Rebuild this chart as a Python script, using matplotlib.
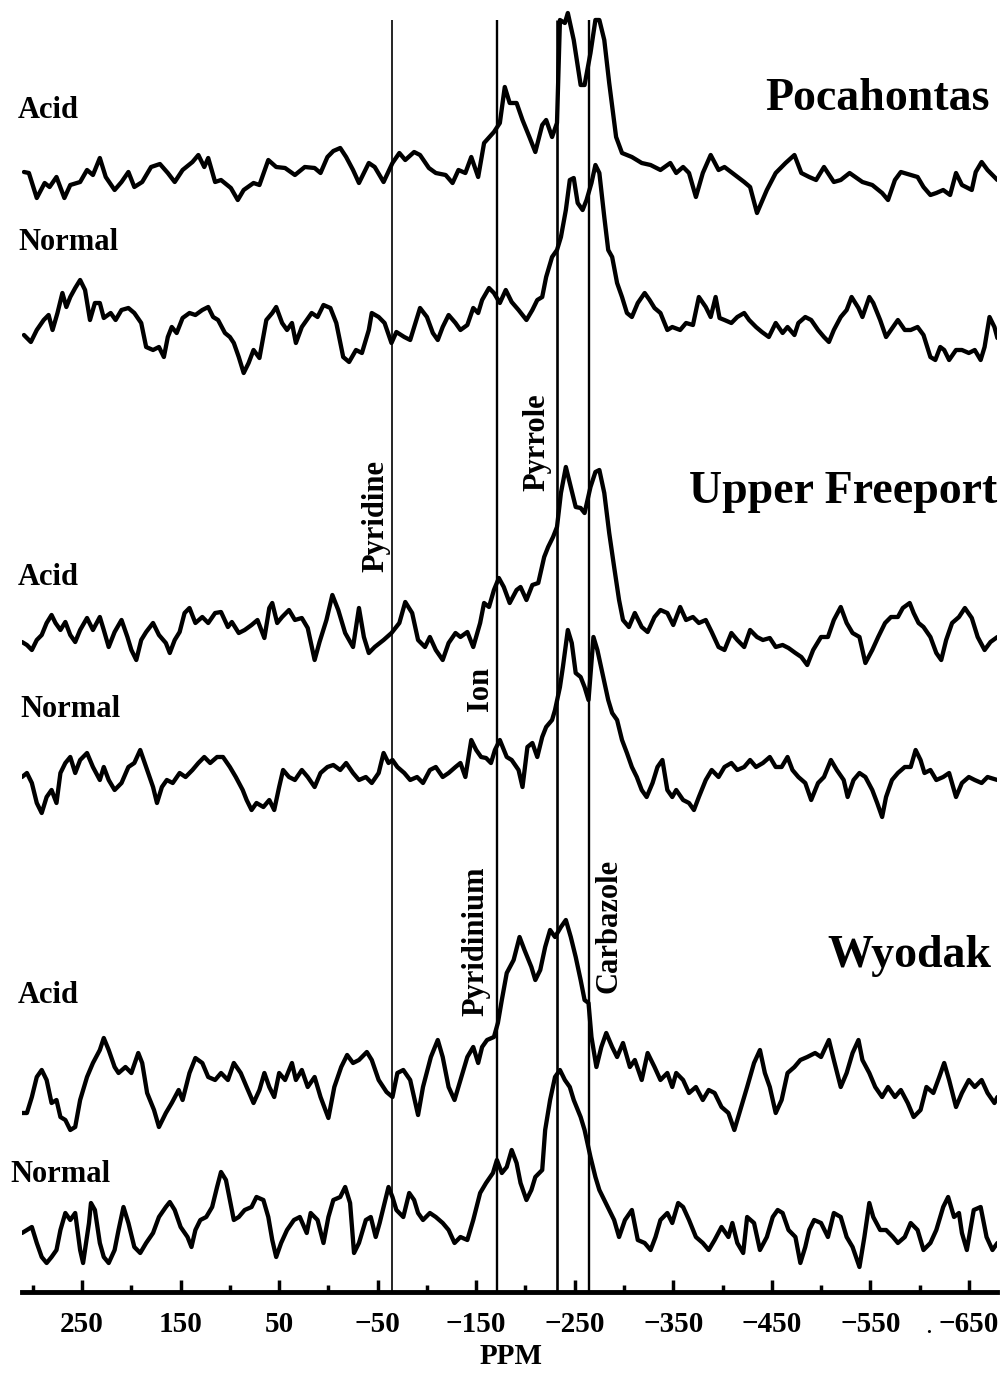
import matplotlib
matplotlib.use("Agg")
import matplotlib.pyplot as plt

# (chemical shift in ppm, intensity)
pocahontas_acid = [
    (309, 13), (304, 12), (296, -13), (288, 2), (283, -2), (276, 8), (268, -13), (262, 0), (252, 3), (245, 15),
    (239, 10), (232, 27), (226, 8), (217, -5), (210, 3), (203, 13), (197, -2), (189, 3), (180, 18), (171, 21),
    (163, 12), (156, 3), (148, 15), (138, 23), (132, 30), (126, 18), (122, 27), (115, 3), (109, 5), (99, -3),
    (92, -15), (86, -5), (76, 2), (70, 0), (61, 25), (53, 18), (44, 17), (34, 10), (24, 18), (14, 17),
    (8, 12), (1, 28), (-5, 34), (-12, 37), (-18, 28), (-25, 15), (-31, 2), (-41, 22), (-47, 18), (-56, 3),
    (-65, 22), (-72, 32), (-78, 25), (-87, 33), (-93, 30), (-102, 17), (-109, 12), (-119, 10), (-126, 2), (-132, 15),
    (-139, 12), (-145, 28), (-152, 8), (-158, 42), (-168, 53), (-174, 62), (-179, 98), (-184, 82), (-191, 82), (-197, 65),
    (-204, 48), (-210, 33), (-217, 60), (-221, 65), (-227, 48), (-232, 62), (-235, 165), (-240, 162), (-243, 172), (-249, 145),
    (-256, 100), (-260, 100), (-266, 132), (-271, 165), (-275, 165), (-280, 145), (-285, 102), (-292, 48), (-298, 32), (-308, 28),
    (-318, 22), (-327, 20), (-337, 15), (-347, 22), (-353, 12), (-360, 18), (-366, 12), (-373, -12), (-380, 12), (-388, 30),
    (-396, 15), (-402, 18), (-410, 12), (-422, 3), (-428, -2), (-435, -28), (-445, -5), (-454, 12), (-464, 22), (-473, 30),
    (-480, 12), (-488, 8), (-495, 5), (-503, 18), (-513, 3), (-520, 5), (-529, 12), (-542, 3), (-552, 0), (-562, -8),
    (-568, -15), (-575, 5), (-581, 13), (-591, 10), (-598, 8), (-604, -2), (-611, -10), (-617, -8), (-624, -5), (-631, -10),
    (-637, 12), (-643, 0), (-653, -5), (-657, 13), (-663, 23), (-669, 15), (-679, 5),
]

pocahontas_normal = [
    (309, -15), (302, -22), (296, -10), (289, 0), (284, 5), (280, -10), (275, 7), (270, 27), (266, 13), (262, 23),
    (257, 32), (252, 40), (247, 30), (242, 0), (237, 17), (232, 17), (228, 2), (221, 7), (216, 0), (210, 10),
    (203, 12), (197, 7), (190, -3), (185, -27), (178, -30), (172, -27), (167, -37), (163, -17), (159, -7), (154, -13),
    (148, 2), (141, 7), (135, 5), (128, 10), (122, 13), (117, 3), (112, 0), (105, -13), (100, -17), (96, -23),
    (91, -37), (86, -53), (81, -43), (76, -30), (70, -38), (63, 0), (57, 7), (53, 13), (47, -3), (42, -10),
    (37, -3), (33, -23), (27, -7), (22, 0), (17, 7), (11, 3), (5, 15), (-2, 12), (-8, -3), (-15, -37),
    (-21, -42), (-28, -30), (-34, -33), (-41, -10), (-44, 7), (-51, 3), (-57, -3), (-64, -23), (-69, -12), (-77, -17),
    (-83, -20), (-93, 12), (-100, 3), (-106, -13), (-111, -20), (-116, -7), (-122, 5), (-129, -3), (-134, -10), (-141, -5),
    (-147, 12), (-152, 7), (-156, 20), (-163, 32), (-168, 27), (-174, 17), (-180, 30), (-186, 18), (-193, 10), (-201, 0),
    (-207, 10), (-212, 20), (-217, 23), (-221, 43), (-227, 63), (-232, 70), (-236, 83), (-241, 110), (-245, 140), (-249, 142),
    (-253, 117), (-258, 110), (-262, 120), (-267, 137), (-271, 155), (-275, 147), (-280, 103), (-284, 70), (-288, 63), (-293, 37),
    (-298, 23), (-303, 7), (-308, 3), (-314, 17), (-321, 27), (-326, 20), (-331, 12), (-337, 7), (-344, -10), (-349, -7),
    (-357, -10), (-363, -3), (-370, -5), (-376, 23), (-383, 13), (-388, 3), (-393, 23), (-397, 2), (-402, 0), (-409, -3),
    (-415, 3), (-422, 7), (-427, 0), (-434, -7), (-440, -12), (-447, -17), (-454, -3), (-461, -13), (-466, -7), (-473, -15),
    (-477, -3), (-484, 3), (-490, 0), (-497, -10), (-503, -17), (-508, -22), (-513, -10), (-520, 3), (-526, 10), (-531, 23),
    (-538, 12), (-542, 3), (-549, 23), (-553, 17), (-560, 0), (-566, -17), (-573, -7), (-578, 0), (-585, -10), (-591, -10),
    (-598, -7), (-604, -15), (-611, -37), (-616, -40), (-621, -27), (-625, -30), (-630, -40), (-637, -30), (-643, -30), (-650, -33),
    (-656, -30), (-662, -40), (-666, -27), (-671, 3), (-676, -7), (-679, -18),
]

freeport_acid = [
    (311, -12), (306, -15), (301, -20), (296, -10), (291, -5), (286, 7), (281, 15), (277, 7), (272, 0), (267, 8),
    (262, -5), (257, -12), (252, 0), (245, 12), (239, 0), (232, 13), (228, 0), (223, -17), (217, -2), (210, 10),
    (204, -7), (200, -20), (195, -30), (190, -10), (185, -2), (178, 7), (172, -5), (165, -13), (161, -23), (156, -10),
    (151, -2), (146, 17), (141, 22), (135, 7), (128, 13), (122, 7), (115, 17), (109, 18), (102, 3), (98, 8),
    (91, -3), (85, 0), (78, 5), (72, 10), (65, -8), (60, 22), (57, 27), (52, 7), (47, 13), (40, 20),
    (34, 10), (27, 12), (21, 2), (14, -30), (9, -12), (2, 10), (-4, 35), (-10, 20), (-17, -3), (-25, -17),
    (-31, 22), (-36, -7), (-41, -23), (-47, -17), (-56, -10), (-64, -3), (-72, 7), (-78, 28), (-85, 17), (-91, -10),
    (-98, -17), (-103, -7), (-109, -20), (-116, -30), (-122, -13), (-129, -3), (-134, -7), (-141, -2), (-147, -17), (-154, 7),
    (-158, 27), (-163, 23), (-168, 40), (-173, 52), (-178, 43), (-184, 27), (-191, 40), (-195, 43), (-201, 30), (-207, 45),
    (-213, 47), (-219, 73), (-223, 83), (-228, 93), (-232, 103), (-236, 137), (-241, 163), (-246, 143), (-251, 123), (-256, 122),
    (-260, 117), (-266, 143), (-271, 158), (-275, 160), (-280, 137), (-285, 97), (-290, 63), (-295, 30), (-299, 10), (-305, 3),
    (-311, 17), (-318, 3), (-324, -2), (-331, 13), (-337, 20), (-344, 17), (-350, 5), (-357, 23), (-363, 10), (-370, 13),
    (-376, 7), (-383, 10), (-389, -2), (-396, -17), (-402, -20), (-409, -3), (-415, -10), (-422, -17), (-428, 0), (-435, -7),
    (-441, -10), (-448, -8), (-454, -17), (-461, -15), (-467, -18), (-474, -23), (-480, -27), (-486, -35), (-492, -20), (-500, -7),
    (-507, -7), (-513, 10), (-520, 23), (-526, 7), (-532, -3), (-539, -7), (-545, -33), (-552, -20), (-558, -7), (-565, 7),
    (-571, 13), (-578, 13), (-583, 22), (-590, 27), (-594, 17), (-599, 7), (-604, 3), (-611, -7), (-617, -23), (-622, -30),
    (-627, -10), (-633, 7), (-640, 13), (-646, 22), (-653, 12), (-659, -7), (-666, -20), (-672, -12), (-679, -7),
]

freeport_normal = [
    (311, -2), (306, 2), (301, -8), (296, -28), (291, -38), (286, -22), (281, -15), (276, -28), (272, 2), (267, 12),
    (262, 18), (257, 2), (252, 15), (245, 22), (239, 8), (232, -5), (228, 8), (223, -5), (217, -15), (210, -8),
    (203, 8), (197, 12), (191, 25), (185, 8), (178, -12), (174, -28), (169, -12), (164, -5), (158, -8), (151, 2),
    (145, -2), (138, 5), (132, 12), (126, 18), (120, 12), (113, 18), (107, 18), (100, 8), (94, -2), (87, -15),
    (83, -25), (78, -35), (73, -28), (66, -32), (60, -25), (55, -35), (50, -12), (46, 5), (40, -2), (34, -5),
    (27, 5), (21, -2), (14, -12), (8, 2), (1, 8), (-5, 10), (-12, 5), (-18, 12), (-25, 2), (-31, -5),
    (-38, -2), (-44, -8), (-51, 2), (-56, 22), (-61, 12), (-65, 15), (-70, 8), (-77, 2), (-83, -5), (-90, -2),
    (-96, -8), (-103, 5), (-109, 8), (-116, -2), (-122, 2), (-129, 8), (-134, 12), (-139, -2), (-145, 35), (-150, 25),
    (-155, 18), (-160, 17), (-165, 12), (-169, 25), (-174, 35), (-181, 18), (-186, 15), (-193, 5), (-197, -12), (-202, 28),
    (-207, 32), (-212, 18), (-217, 38), (-221, 48), (-227, 55), (-230, 65), (-235, 88), (-238, 108), (-243, 145), (-247, 132),
    (-251, 102), (-256, 98), (-260, 88), (-264, 75), (-269, 138), (-273, 125), (-279, 98), (-284, 75), (-288, 62), (-293, 55),
    (-298, 35), (-303, 22), (-308, 8), (-313, -2), (-318, -15), (-323, -22), (-329, -8), (-334, 8), (-339, 15), (-344, -15),
    (-349, -22), (-353, -15), (-360, -25), (-366, -28), (-371, -35), (-376, -22), (-383, -5), (-389, 5), (-396, -2), (-402, 8),
    (-409, 12), (-415, 5), (-422, 8), (-428, 15), (-434, 8), (-441, 12), (-448, 18), (-454, 8), (-460, 8), (-466, 18),
    (-471, 5), (-477, -2), (-484, -8), (-490, -25), (-497, -8), (-503, -2), (-510, 15), (-516, 5), (-523, -5), (-527, -22),
    (-533, -5), (-539, 2), (-545, -2), (-552, -15), (-557, -28), (-562, -42), (-566, -22), (-572, -5), (-578, 2), (-585, 8),
    (-591, 8), (-596, 25), (-601, 15), (-605, 2), (-611, 5), (-617, -5), (-624, -2), (-630, 2), (-637, -22), (-643, -8),
    (-650, -2), (-656, -5), (-663, -8), (-669, -2), (-679, -5),
]

wyodak_acid = [
    (311, -28), (306, -28), (301, -12), (296, 8), (291, 15), (286, 5), (281, -18), (276, -15), (272, -32), (267, -35),
    (262, -45), (257, -42), (252, -15), (245, 8), (239, 22), (232, 35), (228, 47), (223, 35), (217, 18), (213, 12),
    (206, 18), (200, 12), (193, 32), (189, 22), (184, -8), (177, -25), (172, -42), (165, -28), (159, -18), (152, -5),
    (148, -15), (141, 12), (135, 27), (128, 22), (122, 8), (115, 5), (109, 12), (102, 5), (96, 22), (89, 12),
    (83, -2), (76, -18), (70, -5), (65, 12), (60, -2), (55, -12), (50, 12), (44, 5), (37, 22), (33, 5),
    (27, 15), (21, -2), (14, 8), (8, -12), (0, -33), (-6, -2), (-13, 18), (-19, 30), (-25, 22), (-31, 25),
    (-39, 33), (-44, 25), (-51, 5), (-59, -7), (-65, -12), (-70, 12), (-76, 15), (-83, 5), (-91, -30), (-96, -2),
    (-104, 28), (-111, 45), (-116, 28), (-122, -2), (-128, -15), (-134, 5), (-141, 28), (-147, 38), (-152, 22), (-156, 38),
    (-161, 45), (-168, 48), (-172, 62), (-176, 85), (-181, 112), (-188, 125), (-194, 148), (-199, 135), (-206, 118), (-210, 105),
    (-215, 115), (-220, 138), (-225, 155), (-230, 148), (-236, 158), (-241, 165), (-246, 148), (-251, 128), (-256, 105), (-260, 85),
    (-264, 82), (-267, 48), (-272, 18), (-277, 38), (-282, 52), (-288, 38), (-293, 28), (-299, 42), (-306, 18), (-311, 25),
    (-318, 5), (-324, 32), (-331, 18), (-337, 5), (-344, 12), (-349, -2), (-353, 12), (-360, 5), (-366, -8), (-373, -2),
    (-380, -15), (-386, -5), (-392, -8), (-399, -22), (-406, -28), (-412, -45), (-419, -22), (-425, -2), (-432, 22), (-438, 35),
    (-443, 12), (-448, -2), (-454, -28), (-460, -15), (-466, 12), (-473, 18), (-479, 25), (-486, 28), (-494, 32), (-500, 28),
    (-508, 45), (-513, 25), (-520, -2), (-526, 12), (-532, 32), (-538, 45), (-542, 25), (-549, 12), (-555, -2), (-562, -12),
    (-568, -2), (-575, -12), (-581, -5), (-588, -18), (-594, -32), (-601, -25), (-607, -2), (-614, -8), (-620, 8), (-625, 22),
    (-630, 5), (-637, -22), (-643, -8), (-650, 5), (-656, -2), (-663, 5), (-669, -8), (-676, -18), (-679, -12),
]

wyodak_normal = [
    (311, -8), (306, -5), (301, -2), (296, -18), (291, -32), (286, -38), (281, -32), (276, -25), (272, -5), (267, 12),
    (262, 5), (257, 12), (252, -25), (249, -38), (243, 2), (241, 22), (237, 15), (232, -18), (228, -32), (223, -38),
    (217, -25), (213, -5), (208, 18), (203, 2), (197, -22), (191, -28), (185, -18), (178, -8), (172, 8), (165, 18),
    (161, 23), (156, 15), (150, -2), (143, -12), (139, -22), (135, -5), (130, 5), (124, 8), (118, 18), (113, 38),
    (109, 53), (104, 45), (100, 25), (96, 5), (91, 8), (85, 15), (78, 18), (73, 28), (66, 25), (61, 8),
    (57, -15), (53, -32), (48, -18), (42, -5), (35, 5), (29, 8), (22, -8), (18, 12), (11, 5), (5, -18),
    (0, 8), (-5, 25), (-12, 28), (-17, 38), (-22, 22), (-26, -28), (-31, -18), (-38, 5), (-43, 8), (-48, -12),
    (-52, 2), (-56, 18), (-61, 38), (-65, 28), (-69, 15), (-76, 8), (-82, 32), (-87, 25), (-91, 12), (-96, 5),
    (-103, 12), (-109, 8), (-116, 2), (-122, -5), (-128, -18), (-134, -12), (-141, -15), (-147, 5), (-154, 32), (-160, 42),
    (-167, 52), (-171, 65), (-176, 52), (-181, 58), (-186, 75), (-191, 62), (-195, 42), (-201, 25), (-206, 35), (-210, 48),
    (-217, 55), (-220, 95), (-225, 125), (-230, 148), (-235, 155), (-240, 145), (-245, 138), (-249, 125), (-256, 108), (-260, 95),
    (-266, 68), (-271, 48), (-275, 35), (-280, 25), (-285, 15), (-290, 5), (-295, -12), (-301, 5), (-308, 15), (-314, -15),
    (-321, -18), (-327, -25), (-332, -12), (-337, 5), (-344, 12), (-349, 2), (-355, 22), (-360, 18), (-366, 5), (-373, -12),
    (-380, -18), (-386, -25), (-392, -15), (-399, -2), (-406, -12), (-410, 2), (-415, -18), (-421, -28), (-425, 8), (-432, 2),
    (-438, -25), (-445, -12), (-451, 8), (-456, 15), (-461, 12), (-467, -5), (-474, -12), (-479, -38), (-484, -22), (-488, -5),
    (-493, 5), (-500, 2), (-507, -12), (-513, 12), (-520, 8), (-526, -12), (-532, -22), (-539, -42), (-544, -12), (-549, 22),
    (-553, 8), (-560, -5), (-566, -5), (-573, -12), (-578, -18), (-585, -12), (-591, 2), (-598, -5), (-604, -25), (-611, -18),
    (-617, -5), (-624, 18), (-629, 28), (-635, 8), (-640, 12), (-643, -8), (-648, -25), (-655, 15), (-662, 18), (-668, -12),
    (-674, -25), (-679, -18),
]

# reference shifts: pyridine, pyridinium / ion, pyrrole, carbazole
ref_shifts = [-65, -171, -232, -264]

major_ticks = [250, 150, 50, -50, -150, -250, -350, -450, -550, -650]
minor_ticks = [300, 200, 100, 0, -100, -200, -300, -400, -500, -600]
tick_labels = ['250', '150', '50', '\u221250', '\u2212150', '\u2212250',
               '\u2212350', '\u2212450', '\u2212550', '\u2212650']

W, H = 1004, 1374
serif = ['Liberation Serif', 'DejaVu Serif']


def fpos(x, y):
    # pixel position in the picture -> figure fraction
    return x / W, 1 - y / H


fig = plt.figure(figsize=(W / 100, H / 100), dpi=100)
ax = fig.add_axes([22 / W, 1 - 1292 / H, 975 / W, 1292 / H])
ax.set_xlim(311, -678.6)
ax.set_ylim(1292, 0)

# stacked spectra, baselines in pixel rows of the axes
spectra = [pocahontas_acid, pocahontas_normal, freeport_acid,
           freeport_normal, wyodak_acid, wyodak_normal]
baselines = [185, 320, 630, 775, 1085, 1225]
for data, base in zip(spectra, baselines):
    x = [p for p, v in data]
    y = [base - v for p, v in data]
    ax.plot(x, y, color='black', lw=3.1, solid_joinstyle='round',
            solid_capstyle='round')

line_widths = [1.2, 1.7, 1.9, 1.7]
for pos, lw in zip(ref_shifts, line_widths):
    ax.vlines(pos, 20, 1292, color='black', lw=lw)

# axis styling
for side in ['top', 'left', 'right']:
    ax.spines[side].set_visible(False)
ax.spines['bottom'].set_linewidth(3.5)
ax.set_yticks([])
ax.set_xticks(major_ticks)
ax.set_xticks(minor_ticks, minor=True)
ax.set_xticklabels(tick_labels, fontfamily=serif, fontweight='bold', fontsize=21)
ax.tick_params(axis='x', which='major', direction='in', length=9, width=2.5, pad=14)
ax.tick_params(axis='x', which='minor', direction='in', length=5, width=2.5)
ax.patch.set_alpha(0)

fig.text(*fpos(511, 1357), 'PPM', fontfamily=serif, fontweight='bold',
         fontsize=21, ha='center', va='center')
fig.text(*fpos(929, 1333), '.', fontfamily=serif, fontweight='bold',
         fontsize=14, ha='center', va='baseline')

# sample labels
sample_labels = [('Acid', 18, 118), ('Normal', 18, 250), ('Acid', 18, 585),
                 ('Normal', 20, 717), ('Acid', 18, 1003), ('Normal', 10, 1182)]
for txt, x, y in sample_labels:
    fig.text(*fpos(x, y), txt, fontfamily=serif, fontweight='bold',
             fontsize=22, ha='left', va='baseline')

# coal names
coal_labels = [('Pocahontas', 990, 110), ('Upper Freeport', 997, 503),
               ('Wyodak', 991, 967)]
for txt, x, y in coal_labels:
    fig.text(*fpos(x, y), txt, fontfamily=serif, fontweight='bold',
             fontsize=33, ha='right', va='baseline')

# peak assignment labels, rotated along the reference lines
peak_labels = [('Pyridine', 376, 516), ('Pyrrole', 537, 442), ('Ion', 481, 689),
               ('Pyridinium', 476, 941), ('Carbazole', 609, 926)]
for txt, x, y in peak_labels:
    fig.text(*fpos(x, y), txt, fontfamily=serif, fontweight='bold',
             fontsize=22, rotation=90, ha='center', va='center')

fig.savefig('out.png', dpi=100, facecolor='white')
